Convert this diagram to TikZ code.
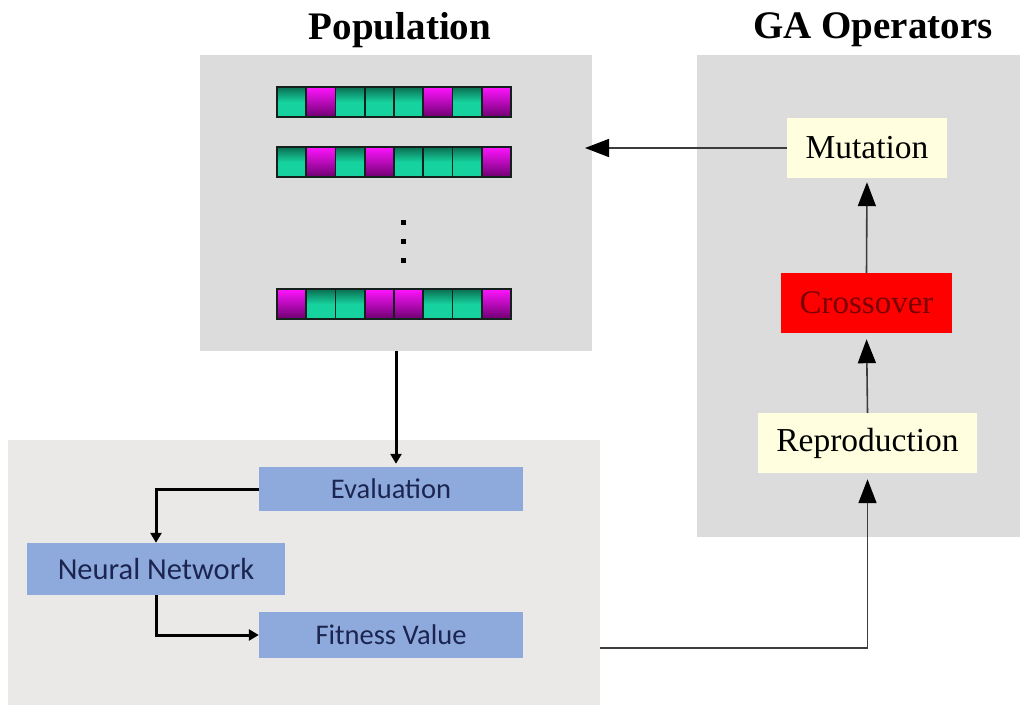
\documentclass[tikz,border=0pt]{standalone}
\usepackage{fontspec}
\setmainfont{Liberation Serif}
\newfontfamily\boxsans{Carlito}
\usetikzlibrary{arrows.meta}

\definecolor{panelgray}{HTML}{DCDCDC}
\definecolor{lowpanel}{HTML}{EBE8E8}
\definecolor{opyellow}{HTML}{FFFFE0}
\definecolor{opred}{HTML}{FF0000}
\definecolor{opredtext}{HTML}{7A0000}
\definecolor{stepblue}{HTML}{8EAADC}
\definecolor{steptext}{HTML}{1B2550}
\definecolor{linkgray}{HTML}{3C3C3C}
\definecolor{genedark}{HTML}{0B6E52}
\definecolor{genelight}{HTML}{16D29E}
\definecolor{genepink}{HTML}{FF14FF}
\definecolor{genepurple}{HTML}{6E0070}
\definecolor{geneedge}{HTML}{14201C}

\tikzset{
  panel/.style={draw=none, fill=#1, inner sep=0pt},
  heading/.style={font=\fontsize{39}{43}\selectfont\bfseries},
  opbox/.style={draw=none, fill=opyellow, inner sep=0pt, minimum height=60pt,
    font=\fontsize{33.5}{36}\selectfont},
  xbox/.style={draw=none, fill=opred, text=opredtext, inner sep=0pt, minimum height=60pt,
    font=\fontsize{33}{36}\selectfont},
  stepbox/.style={draw=none, fill=stepblue, text=steptext, inner sep=0pt,
    font=\boxsans\fontsize{28.5}{31}\selectfont},
  garrow/.style={draw=linkgray, line width=1.6pt, -{Triangle[length=24pt,width=18pt,color=black]}},
  barrow/.style={draw=black, line width=3pt, -{Triangle[length=10pt,width=11pt]}},
  tgene/.style={draw=geneedge, line width=1.6pt, top color=genedark, bottom color=genelight,
    middle color=genelight},
  mgene/.style={draw=geneedge, line width=1.6pt, top color=genepink, bottom color=genepurple},
}

\begin{document}
\begin{tikzpicture}[x=1pt, y=-1pt]
  \useasboundingbox (0,0) rectangle (1022,705);

  % background panels
  \node[panel=panelgray, minimum width=392pt, minimum height=296pt] (pop) at (396,203) {};
  \node[panel=panelgray, minimum width=323pt, minimum height=482pt] (ga) at (858.5,296) {};
  \node[panel=lowpanel, minimum width=592pt, minimum height=265pt] (nnpanel) at (304,572.5) {};

  % headings
  \node[heading] (poptitle) at (400,30) {Population};
  \node[heading] (gatitle) at (873,30) {GA Operators};

  % chromosomes: 0 = teal gene, 1 = magenta gene
  \foreach \row/\top/\genes in {1/87/{0,1,0,0,0,1,0,1},
                                 2/147/{0,1,0,1,0,0,0,1},
                                 3/289/{1,0,0,1,1,0,0,1}} {
    \foreach \g [count=\i from 0] in \genes {
      \pgfmathsetmacro{\xl}{277+29.25*\i}
      \pgfmathsetmacro{\xr}{277+29.25*(\i+1)}
      \ifnum\g=0
        \path[tgene] (\xl,\top) rectangle (\xr,\top+30);
      \else
        \path[mgene] (\xl,\top) rectangle (\xr,\top+30);
      \fi
    }
  }

  % ellipsis between chromosomes
  \foreach \y in {222,241,260}
    \fill[black] (400.5,\y-2.5) rectangle (405.5,\y+2.5);

  % GA operators
  \node[opbox, minimum width=160pt] (mut) at (867,148) {Mutation};
  \node[xbox, minimum width=171pt] (cross) at (866.5,303) {Crossover};
  \node[opbox, minimum width=219pt] (repro) at (867.5,443) {Reproduction};

  % evaluation steps
  \node[stepbox, minimum width=264pt, minimum height=44pt] (eval) at (391,489) {Evaluation};
  \node[stepbox, minimum width=258pt, minimum height=52pt, font=\boxsans\fontsize{30.5}{33}\selectfont] (nn) at (156,569) {Neural Network};
  \node[stepbox, minimum width=264pt, minimum height=46pt] (fit) at (391,635) {Fitness Value};

  % connectors
  \coordinate (popin) at (585,148);
  \coordinate (fitout) at (600,648);
  \draw[garrow] (mut.west) -- (popin);
  \draw[garrow, shorten >=4pt] (cross.north) -- (mut.south);
  \draw[garrow, shorten >=6pt] (repro.north) -- (cross.south);
  \draw[garrow, shorten >=6pt] (fitout) -| (repro.south);

  \draw[barrow, shorten >=3pt] (pop.south) -- (pop.south |- eval.north);
  \draw[barrow] (eval.west) -| (nn.north);
  \draw[barrow] (nn.south) |- (fit.west);
\end{tikzpicture}
\end{document}
